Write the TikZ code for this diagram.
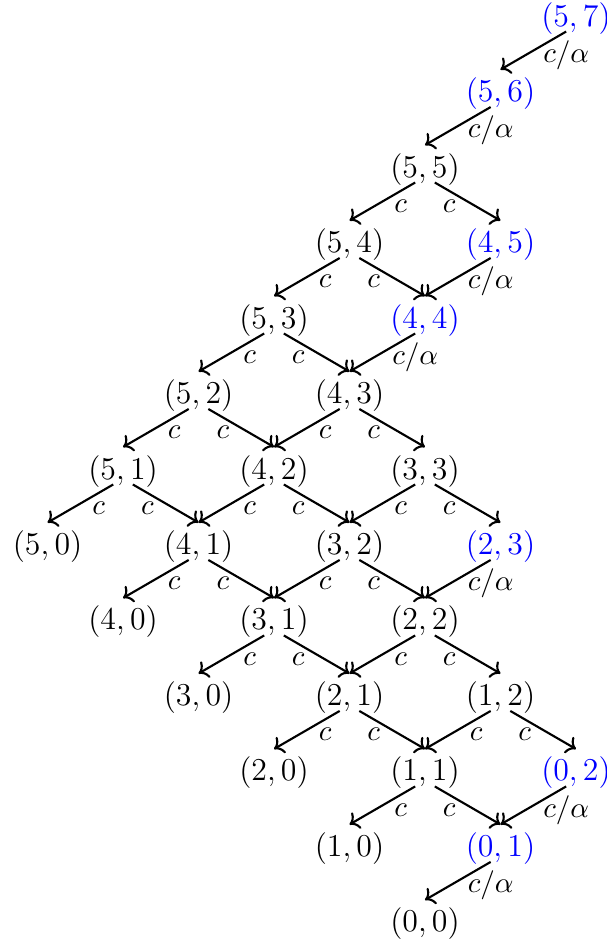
\documentclass[tikz,border=0pt]{standalone}
\usepackage{amsmath}
\usepackage{xcolor}
\usepackage{tikz}
\usetikzlibrary{arrows.meta, positioning}

\begin{document}
\begin{tikzpicture}[
  node distance = 1cm and 1cm, on grid,
  st/.style    = {inner sep=0pt, font=\large},
  bst/.style   = {st, text=blue},
  arr/.style   = {->, thick},
  lbl/.style   = {below, pos=.22, inner sep=3pt, font=\fontsize{11}{13}\selectfont},
  albl/.style  = {lbl, pos=0},
  fromL/.style = {xshift=-1.3mm, yshift=.4mm},
  fromR/.style = {xshift=1.3mm, yshift=.4mm},
  into/.style  = {yshift=1mm},
]
\useasboundingbox (-7.63,-12.305) rectangle (0.41,0.24);

% top chain
\node[bst] (n57) {$(5,7)$};
\node[bst, below left=of n57] (n56) {$(5,6)$};
\node[st,  below left=of n56] (n55) {$(5,5)$};

% lattice rows
\node[st,  below left=of n55]  (n54) {$(5,4)$};
\node[bst, below right=of n55] (n45) {$(4,5)$};
\node[st,  below left=of n54]  (n53) {$(5,3)$};
\node[bst, below right=of n54] (n44) {$(4,4)$};
\node[st,  below left=of n53]  (n52) {$(5,2)$};
\node[st,  below right=of n53] (n43) {$(4,3)$};
\node[st,  below left=of n52]  (n51) {$(5,1)$};
\node[st,  below right=of n52] (n42) {$(4,2)$};
\node[st,  below right=of n43] (n33) {$(3,3)$};
\node[st,  below left=of n51]  (n50) {$(5,0)$};
\node[st,  below right=of n51] (n41) {$(4,1)$};
\node[st,  below right=of n42] (n32) {$(3,2)$};
\node[bst, below right=of n33] (n23) {$(2,3)$};
\node[st,  below left=of n41]  (n40) {$(4,0)$};
\node[st,  below right=of n41] (n31) {$(3,1)$};
\node[st,  below right=of n32] (n22) {$(2,2)$};
\node[st,  below left=of n31]  (n30) {$(3,0)$};
\node[st,  below right=of n31] (n21) {$(2,1)$};
\node[st,  below right=of n22] (n12) {$(1,2)$};
\node[st,  below left=of n21]  (n20) {$(2,0)$};
\node[st,  below right=of n21] (n11) {$(1,1)$};
\node[bst, below right=of n12] (n02) {$(0,2)$};
\node[st,  below left=of n11]  (n10) {$(1,0)$};
\node[bst, below right=of n11] (n01) {$(0,1)$};
\node[st,  below left=of n01]  (n00) {$(0,0)$};

% c/alpha moves
\draw[arr] ([fromL]n57.south) -- node[albl] {$c/\alpha$} ([into]n56.north);
\draw[arr] ([fromL]n56.south) -- node[albl] {$c/\alpha$} ([into]n55.north);
\draw[arr] ([fromL]n45.south) -- node[albl] {$c/\alpha$} ([into]n44.north);
\draw[arr] ([fromL]n44.south) -- node[albl] {$c/\alpha$} ([into]n43.north);
\draw[arr] ([fromL]n23.south) -- node[albl] {$c/\alpha$} ([into]n22.north);
\draw[arr] ([fromL]n02.south) -- node[albl] {$c/\alpha$} ([into]n01.north);
\draw[arr] ([fromL]n01.south) -- node[albl] {$c/\alpha$} ([into]n00.north);

% c moves, left
\draw[arr] ([fromL]n55.south) -- node[lbl] {$c$} ([into]n54.north);
\draw[arr] ([fromL]n54.south) -- node[lbl] {$c$} ([into]n53.north);
\draw[arr] ([fromL]n53.south) -- node[lbl] {$c$} ([into]n52.north);
\draw[arr] ([fromL]n52.south) -- node[lbl] {$c$} ([into]n51.north);
\draw[arr] ([fromL]n51.south) -- node[lbl] {$c$} ([into]n50.north);
\draw[arr] ([fromL]n43.south) -- node[lbl] {$c$} ([into]n42.north);
\draw[arr] ([fromL]n42.south) -- node[lbl] {$c$} ([into]n41.north);
\draw[arr] ([fromL]n41.south) -- node[lbl] {$c$} ([into]n40.north);
\draw[arr] ([fromL]n33.south) -- node[lbl] {$c$} ([into]n32.north);
\draw[arr] ([fromL]n32.south) -- node[lbl] {$c$} ([into]n31.north);
\draw[arr] ([fromL]n31.south) -- node[lbl] {$c$} ([into]n30.north);
\draw[arr] ([fromL]n22.south) -- node[lbl] {$c$} ([into]n21.north);
\draw[arr] ([fromL]n21.south) -- node[lbl] {$c$} ([into]n20.north);
\draw[arr] ([fromL]n12.south) -- node[lbl] {$c$} ([into]n11.north);
\draw[arr] ([fromL]n11.south) -- node[lbl] {$c$} ([into]n10.north);

% c moves, right
\draw[arr] ([fromR]n55.south) -- node[lbl] {$c$} ([into]n45.north);
\draw[arr] ([fromR]n54.south) -- node[lbl] {$c$} ([into]n44.north);
\draw[arr] ([fromR]n53.south) -- node[lbl] {$c$} ([into]n43.north);
\draw[arr] ([fromR]n43.south) -- node[lbl] {$c$} ([into]n33.north);
\draw[arr] ([fromR]n52.south) -- node[lbl] {$c$} ([into]n42.north);
\draw[arr] ([fromR]n42.south) -- node[lbl] {$c$} ([into]n32.north);
\draw[arr] ([fromR]n33.south) -- node[lbl] {$c$} ([into]n23.north);
\draw[arr] ([fromR]n51.south) -- node[lbl] {$c$} ([into]n41.north);
\draw[arr] ([fromR]n41.south) -- node[lbl] {$c$} ([into]n31.north);
\draw[arr] ([fromR]n32.south) -- node[lbl] {$c$} ([into]n22.north);
\draw[arr] ([fromR]n31.south) -- node[lbl] {$c$} ([into]n21.north);
\draw[arr] ([fromR]n22.south) -- node[lbl] {$c$} ([into]n12.north);
\draw[arr] ([fromR]n21.south) -- node[lbl] {$c$} ([into]n11.north);
\draw[arr] ([fromR]n12.south) -- node[lbl] {$c$} ([into]n02.north);
\draw[arr] ([fromR]n11.south) -- node[lbl] {$c$} ([into]n01.north);
\end{tikzpicture}
\end{document}
